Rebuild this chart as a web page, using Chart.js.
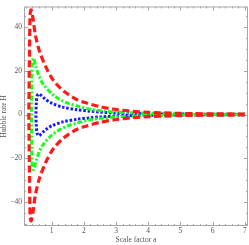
<!DOCTYPE html>
<html lang="en">
  <head>
    <meta charset="utf-8"/>
    <script src="https://cdn.jsdelivr.net/npm/chart.js@4.4.1/dist/chart.umd.min.js"></script>
    <style>
      body { margin: 0; background: #fff; }
      #plot { display: block; }
    </style>
  </head>
  <body>
    <canvas id="plot" width="249" height="245"></canvas>

<script>
// values: scale factor a and the two branches of H
const redA     = [0.29, 0.31, 0.33, 0.36, 0.42, 0.49, 0.62, 0.82, 1.0, 1.13, 1.4, 1.76, 2.0, 2.5, 3.0, 3.5, 4.0, 5.0, 6.0, 7.0];
const redUpper = [0.5, 30, 46, 48, 44, 36.6, 29, 21.7, 16.8, 14.2, 10.4, 7.0, 5.6, 3.6, 2.3, 1.5, 1.0, 0.5, 0.3, 0.2];
const redLower = [-0.5, -30, -46.5, -48.8, -44.5, -37, -29.2, -21.7, -16.8, -14.2, -10.4, -7.0, -5.6, -3.6, -2.3, -1.5, -1.0, -0.5, -0.3, -0.2];

const greenA     = [0.37, 0.38, 0.40, 0.44, 0.51, 0.60, 0.72, 1.0, 1.24, 1.5, 1.76, 2.17, 2.6, 3.0, 3.5, 4.0, 5.0, 6.0, 7.0];
const greenUpper = [0.5, 17, 24, 25.8, 21.7, 17.8, 14.2, 9.6, 7.0, 5.2, 4.0, 2.5, 1.6, 1.1, 0.8, 0.6, 0.3, 0.2, 0.1];
const greenLower = [-0.5, -17, -24, -25.3, -21.5, -17.6, -14.0, -9.5, -7.0, -5.2, -4.0, -2.5, -1.6, -1.1, -0.8, -0.6, -0.3, -0.2, -0.1];

const blueA     = [0.51, 0.52, 0.55, 0.60, 0.66, 0.75, 0.82, 1.0, 1.34, 1.78, 2.2, 2.5, 3.0, 4.0, 5.0, 7.0];
const blueUpper = [0.5, 5, 8.6, 9.4, 8.9, 7.7, 6.8, 5.2, 3.4, 2.2, 1.5, 1.1, 0.7, 0.35, 0.2, 0.1];
const blueLower = [-0.5, -5, -8.8, -9.7, -9.1, -7.8, -6.9, -5.2, -3.4, -2.2, -1.5, -1.1, -0.7, -0.35, -0.2, -0.1];

const xTicks = [1, 2, 3, 4, 5, 6, 7];
const yTicks = [-40, -20, 0, 20, 40];

const xRange = [0.139, 7.1];
const yRange = [-51.1, 49.5];

// upper branch from a=7 back to the left edge, then the lower branch out to a=7
function loop(aVals, upper, lower) {
    const pts = [];
    for( let i = aVals.length - 1; i >= 0; i-- ) {
        pts.push({ x: aVals[i], y: upper[i] });
    }
    for( let i = 0; i < aVals.length; i++ ) {
        pts.push({ x: aVals[i], y: lower[i] });
    }
    return pts;
}

const textFont = { family: "'Liberation Serif', 'DejaVu Serif', serif", size: 7.5 };
const textColour = '#555';
const frameColour = '#a6a6a6';

// Mathematica-style frame with inward ticks on all four sides
const framePlugin = {
    id: 'frame',
    beforeDatasetsDraw(chart) {
        const { ctx, chartArea: ca, scales } = chart;
        const xs = scales.x, ys = scales.y;
        ctx.save();
        ctx.strokeStyle = frameColour;
        ctx.lineWidth = 1;
        ctx.strokeRect(ca.left + 0.5, ca.top + 0.5, ca.right - ca.left - 1, ca.bottom - ca.top - 1);
        ctx.beginPath();
        for( let k = 1; k <= 35; k++ ) {
            const v = k * 0.2;
            const px = Math.round(xs.getPixelForValue(v)) + 0.5;
            const len = (k % 5 === 0) ? 4 : 2;
            ctx.moveTo(px, ca.bottom); ctx.lineTo(px, ca.bottom - len);
            ctx.moveTo(px, ca.top); ctx.lineTo(px, ca.top + len);
        }
        for( let v = -50; v <= 45; v += 5 ) {
            const py = Math.round(ys.getPixelForValue(v)) + 0.5;
            const len = (v % 20 === 0) ? 4 : 2;
            ctx.moveTo(ca.left, py); ctx.lineTo(ca.left + len, py);
            ctx.moveTo(ca.right, py); ctx.lineTo(ca.right - len, py);
        }
        ctx.stroke();
        ctx.restore();
    }
};

const ctx = document.getElementById('plot').getContext('2d');
const chart = new Chart(ctx, {
    type: 'scatter',
    data: {
        datasets: [
            {
                data: loop(redA, redUpper, redLower),
                showLine: true, pointRadius: 0, tension: 0.3,
                borderColor: '#ff1a1a', borderWidth: 3.2, borderDash: [7, 3.5],
            },
            {
                data: loop(greenA, greenUpper, greenLower),
                showLine: true, pointRadius: 0, tension: 0.3,
                borderColor: '#1aff1a', borderWidth: 3, borderDash: [5, 2, 2, 2],
            },
            {
                data: loop(blueA, blueUpper, blueLower),
                showLine: true, pointRadius: 0, tension: 0.3,
                borderColor: '#1a1aff', borderWidth: 3, borderDash: [2.5, 1.8],
            },
        ]
    },
    options: {
        responsive: false,
        animation: false,
        layout: { padding: { top: 1, right: 1, left: 0, bottom: 0 } },
        plugins: { legend: { display: false }, tooltip: { enabled: false } },
        scales: {
            x: {
                type: 'linear', min: xRange[0], max: xRange[1],
                afterBuildTicks: (s) => { s.ticks = xTicks.map((v) => ({ value: v })); },
                afterFit: (s) => { s.height = 19; },
                grid: { display: false, drawTicks: false },
                border: { display: false },
                ticks: { font: textFont, color: textColour, padding: 1, maxRotation: 0 },
                title: { display: true, text: 'Scale factor a', font: textFont, color: textColour, padding: 0 },
            },
            y: {
                type: 'linear', min: yRange[0], max: yRange[1],
                afterBuildTicks: (s) => { s.ticks = yTicks.map((v) => ({ value: v })); },
                afterFit: (s) => { s.width = 24; },
                grid: { display: false, drawTicks: false },
                border: { display: false },
                ticks: {
                    font: textFont, color: textColour, padding: 2,
                    callback: (v) => (v < 0 ? '\u2212' + Math.abs(v) : String(v)),
                },
                title: { display: true, text: 'Hubble rate H', font: textFont, color: textColour, padding: 0 },
            }
        }
    },
    plugins: [framePlugin]
});
</script>
  </body>
</html>
